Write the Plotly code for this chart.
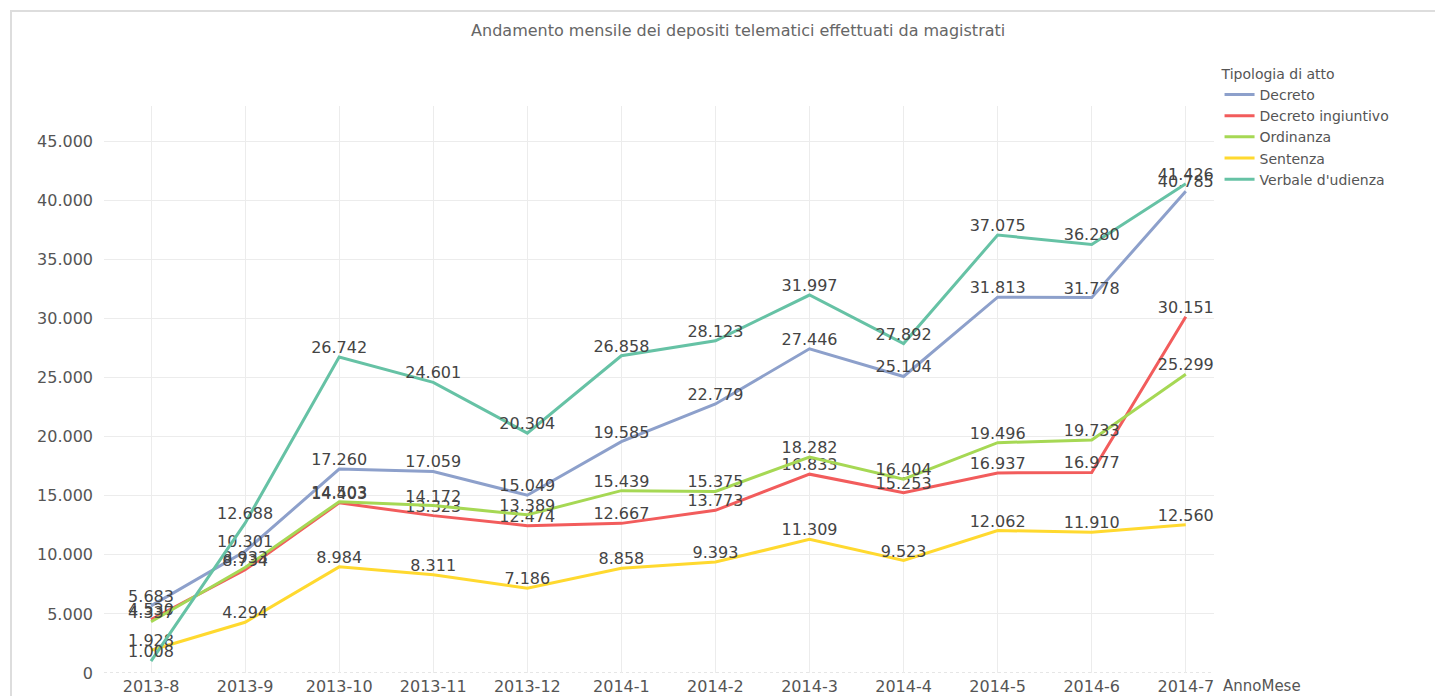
import plotly.graph_objects as go

# months on the x axis
mesi = ["2013-8", "2013-9", "2013-10", "2013-11", "2013-12", "2014-1",
        "2014-2", "2014-3", "2014-4", "2014-5", "2014-6", "2014-7"]

decreto = [5683, 10301, 17260, 17059, 15049, 19585, 22779, 27446, 25104, 31813, 31778, 40785]
decreto_ingiuntivo = [4530, 8734, 14403, 13323, 12474, 12667, 13773, 16833, 15253, 16937, 16977, 30151]
ordinanza = [4337, 8933, 14503, 14172, 13389, 15439, 15375, 18282, 16404, 19496, 19733, 25299]
sentenza = [1928, 4294, 8984, 8311, 7186, 8858, 9393, 11309, 9523, 12062, 11910, 12560]
verbale = [1008, 12688, 26742, 24601, 20304, 26858, 28123, 31997, 27892, 37075, 36280, 41426]

serie = [
    ("Decreto", decreto, "#8da0cb"),
    ("Decreto ingiuntivo", decreto_ingiuntivo, "#f25c5c"),
    ("Ordinanza", ordinanza, "#a6d854"),
    ("Sentenza", sentenza, "#ffd92f"),
    ("Verbale d'udienza", verbale, "#66c2a5"),
]

FONT = "DejaVu Sans, Verdana, sans-serif"

fig = go.Figure()
for nome, valori, colore in serie:
    fig.add_trace(go.Scatter(
        x=mesi, y=valori, name=nome, mode="lines+text",
        line=dict(color=colore, width=3),
        text=valori, texttemplate="%{y:,}", textposition="top center",
        textfont=dict(size=16, color="#444", family=FONT),
    ))

# the page body adds 8px around the figure, margins take that into account
fig.update_layout(
    width=1443, height=696,
    margin=dict(l=96, r=237, t=98, b=31),
    paper_bgcolor="white", plot_bgcolor="white",
    separators=",.",
    font=dict(family=FONT, color="#555"),
    title=dict(text="Andamento mensile dei depositi telematici effettuati da magistrati",
               x=0.506, xanchor="center", y=0.968, yanchor="middle",
               font=dict(size=16, color="#666", family=FONT)),
    legend=dict(title=dict(text="Tipologia di atto", font=dict(size=14, color="#555")),
                x=1.005, xanchor="left", y=1.08, yanchor="top",
                font=dict(size=14, color="#555"), tracegroupgap=0,
                itemwidth=30),
    showlegend=True,
    shapes=[
        dict(type="rect", xref="paper", yref="paper",
             x0=-0.0838, x1=1.3, y0=-0.2, y1=1.1676,
             line=dict(color="#dddddd", width=2), layer="below"),
        dict(type="line", xref="paper", yref="y", x0=0, x1=1, y0=0, y1=0,
             line=dict(color="#cccccc", width=1, dash="dot"), layer="below"),
    ],
    annotations=[dict(text="AnnoMese", xref="paper", yref="paper",
                      x=1.006, y=-0.023, xanchor="left", yanchor="middle",
                      showarrow=False, font=dict(size=15, color="#555"))],
)
fig.update_xaxes(type="category", range=[-0.5, 11.3], showgrid=True,
                 gridcolor="#ececec", ticks="", tickfont=dict(size=16, color="#555"),
                 showline=False, zeroline=False, automargin=False,
                 ticklabelstandoff=2)
fig.update_yaxes(range=[0, 48000], dtick=5000, showgrid=True, gridcolor="#ececec",
                 tickformat=",", tickfont=dict(size=16, color="#555"),
                 zeroline=False, ticks="", ticklabelstandoff=10, automargin=False)

fig.write_html("out.html")
